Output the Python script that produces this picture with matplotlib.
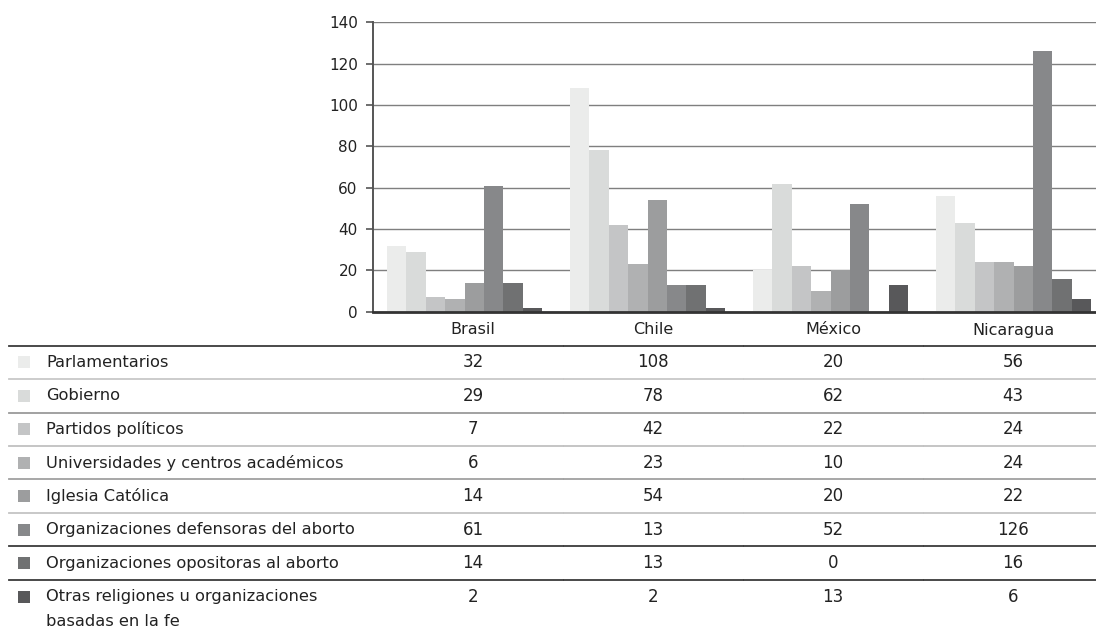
import matplotlib.pyplot as plt
import numpy as np

plt.rcParams['font.family'] = 'DejaVu Sans'

countries = ['Brasil', 'Chile', 'México', 'Nicaragua']
actors = [
    'Parlamentarios',
    'Gobierno',
    'Partidos políticos',
    'Universidades y centros académicos',
    'Iglesia Católica',
    'Organizaciones defensoras del aborto',
    'Organizaciones opositoras al aborto',
    'Otras religiones u organizaciones\nbasadas en la fe',
]
parlamentarios = [32, 108, 20, 56]
gobierno = [29, 78, 62, 43]
partidos = [7, 42, 22, 24]
universidades = [6, 23, 10, 24]
iglesia = [14, 54, 20, 22]
defensoras = [61, 13, 52, 126]
opositoras = [14, 13, 0, 16]
otras = [2, 2, 13, 6]
series = [parlamentarios, gobierno, partidos, universidades,
          iglesia, defensoras, opositoras, otras]

colors = ['#ebeceb', '#d9dbda', '#c4c5c6', '#b0b1b2',
          '#9c9d9e', '#87888a', '#707172', '#58585a']

W, H = 1096, 631
fig = plt.figure(figsize=(W / 100, H / 100), dpi=100)

# chart area in pixels: y axis at x=373, zero line at y=311.7
ax = fig.add_axes([373 / W, (H - 311.7) / H, 732 / W, 289.4 / H])
x = np.arange(len(countries))
bw = 0.106
for i, (vals, c) in enumerate(zip(series, colors)):
    ax.bar(x + (i - 3.5) * bw, vals, bw, color=c, linewidth=0, zorder=3)

ax.set_xlim(-0.5, 3.5)
ax.set_ylim(0, 140)
ax.set_yticks(range(0, 141, 20))
ax.set_xticks([])
ax.yaxis.grid(True, color='#7f7f7f', linewidth=1)
ax.set_axisbelow(True)
for s in ['top', 'right']:
    ax.spines[s].set_visible(False)
ax.spines['left'].set_color('#555555')
ax.spines['left'].set_linewidth(1.4)
ax.spines['bottom'].set_color('#333333')
ax.spines['bottom'].set_linewidth(2)
ax.spines['bottom'].set_zorder(4)
ax.tick_params(axis='y', length=5, width=1.2, color='#555555',
               labelsize=11, labelcolor='#222222', pad=6)

# data table below the chart, positions in figure pixels
def fx(px):
    return px / W

def fy(py):
    return 1 - py / H

col_x = [473, 653, 833, 1013]
txt = '#222222'
for cx, name in zip(col_x, countries):
    fig.text(fx(cx), fy(330), name, ha='center', va='center',
             fontsize=11.5, color=txt)

row_h = 33.44
first_line = 345.7
line_colors = ['#3a3a3a', '#c8c8c8', '#9a9a9a', '#c0c0c0',
               '#a0a0a0', '#c4c4c4', '#3a3a3a', '#3a3a3a']
breaks = [8, 563, 743, 923, 1096]
for k, lc in enumerate(line_colors):
    yl = fy(first_line + k * row_h)
    for a, b in zip(breaks[:-1], breaks[1:]):
        fig.add_artist(plt.Line2D([fx(a + 0.5), fx(b - 0.5)], [yl, yl],
                                  color=lc, linewidth=1.3))

for r, (name, vals, c) in enumerate(zip(actors, series, colors)):
    yc = first_line + (r + 0.5) * row_h
    fig.add_artist(plt.Rectangle((fx(18), fy(yc + 6)), 12 / W, 12 / H,
                                 facecolor=c, edgecolor='none'))
    lines = name.split('\n')
    fig.text(fx(46), fy(yc), lines[0], ha='left', va='center',
             fontsize=11.7, color=txt)
    if len(lines) > 1:
        fig.text(fx(46), fy(yc + 25), lines[1], ha='left', va='center',
                 fontsize=11.7, color=txt)
    for cx, v in zip(col_x, vals):
        fig.text(fx(cx), fy(yc), str(v), ha='center', va='center',
                 fontsize=12, color=txt)

fig.savefig('out.png', dpi=100)
